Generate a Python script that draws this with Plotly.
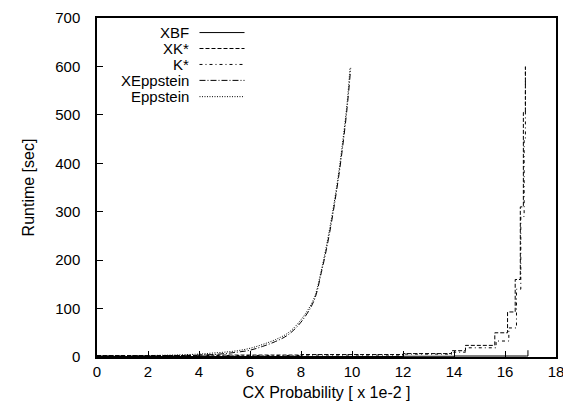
import plotly.graph_objects as go

# ---- data ----
xbf_x = [0, 2, 4, 6, 8, 10, 12, 14, 16, 16.85, 16.9]
xbf_y = [1, 1, 1, 1, 1, 1, 1.5, 2, 2, 2, 14]

xks_x = [0, 2, 4, 6, 8, 10, 12, 13.9, 14.45, 15.6, 16.1, 16.4, 16.6, 16.72, 16.8]
xks_y = [3, 3, 4, 4, 5, 5, 7, 13, 24, 50, 93, 160, 310, 505, 600]

ks_x = [0, 2, 4, 6, 8, 10, 12, 14, 14.45, 15.65, 16.15, 16.45, 16.62, 16.75, 16.8]
ks_y = [2, 2, 3, 3, 4, 4, 6, 10, 19, 33, 60, 140, 290, 450, 600]

xepp_x = [0, 1, 2, 3, 4, 4.5, 5, 5.5, 6, 6.5, 7, 7.5, 8, 8.5, 8.8, 9.1, 9.4, 9.6, 9.8, 9.95]
xepp_y = [2, 2, 2, 3, 4, 5, 7, 10, 14, 22, 32, 46, 72, 115, 175, 250, 345, 420, 510, 597]

epp_x = [0, 1, 2, 3, 4, 4.5, 5, 5.5, 6, 6.5, 7, 7.5, 8, 8.5, 8.8, 9.1, 9.4, 9.6, 9.8, 9.92]
epp_y = [2, 2, 3, 4, 6, 8, 10, 13, 18, 26, 36, 50, 77, 120, 180, 258, 352, 430, 520, 597]

names = ["XBF", "XK*", "K*", "XEppstein", "Eppstein"]
dashes = ["solid", "4px,2px", "3px,3px,1px,3px", "6px,2px,1px,2px", "1px,1.5px"]

FONT = "Liberation Sans"

fig = go.Figure()
series = [(xbf_x, xbf_y, "hv"), (xks_x, xks_y, "hv"), (ks_x, ks_y, "hv"),
          (xepp_x, xepp_y, "spline"), (epp_x, epp_y, "spline")]
for (xs, ys, shape), nm, ds in zip(series, names, dashes):
    fig.add_trace(go.Scatter(x=xs, y=ys, mode="lines", name=nm, showlegend=False,
                             line=dict(color="black", width=1, dash=ds, shape=shape)))

# manual legend (text right-aligned, sample to the right)
row_y = [0.957, 0.910, 0.863, 0.816, 0.768]
for nm, ds, yy in zip(names, dashes, row_y):
    fig.add_annotation(x=0.2054, y=yy, xref="paper", yref="paper", text=nm,
                       showarrow=False, xanchor="right", yanchor="middle",
                       font=dict(family=FONT, size=15, color="black"))
    fig.add_shape(type="line", xref="paper", yref="paper", x0=0.2233, x1=0.3214,
                  y0=yy, y1=yy, line=dict(color="black", width=1, dash=ds))

fig.update_layout(
    width=571, height=407,
    margin=dict(l=89, r=23, t=10, b=58, autoexpand=False),
    paper_bgcolor="white", plot_bgcolor="white",
    font=dict(family=FONT, size=13.4, color="black"),
    xaxis=dict(range=[0, 18], dtick=2, tick0=0, showgrid=False, zeroline=False,
               showline=True, linecolor="black", linewidth=1.5, mirror=True,
               ticks="inside", ticklen=6, tickcolor="black", tickwidth=1,
               tickfont=dict(size=15), automargin=False,
               title=dict(text="CX Probability [ x 1e-2 ]", standoff=8)),
    yaxis=dict(range=[0, 700], dtick=100, tick0=0, showgrid=False, zeroline=False,
               showline=True, linecolor="black", linewidth=1.5, mirror=True,
               ticks="inside", ticklen=6, tickcolor="black", tickwidth=1,
               tickfont=dict(size=15), automargin=False, ticklabelstandoff=12,
               title=dict(text="Runtime [sec]", standoff=17)),
)

fig.write_html("out.html")
